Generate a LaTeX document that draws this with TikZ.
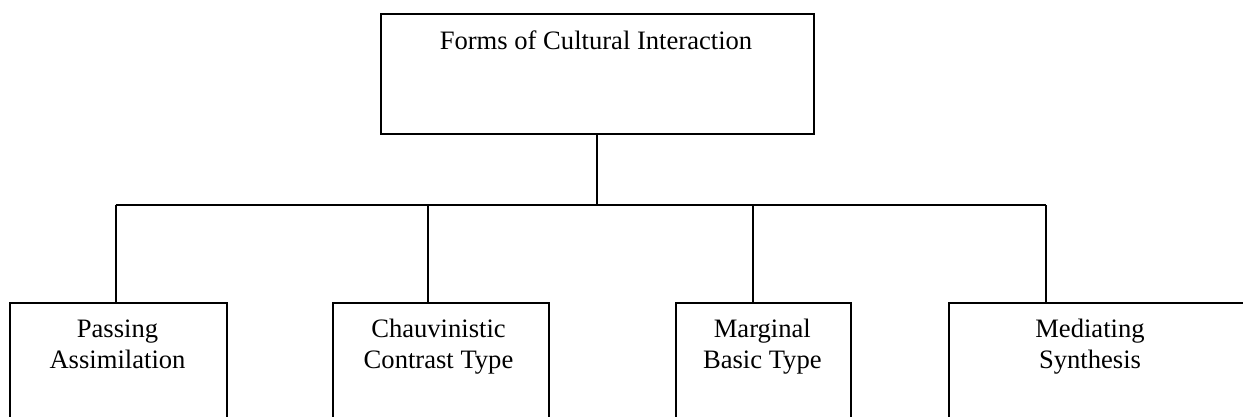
\documentclass[tikz,border=0pt]{standalone}
\usepackage{fontspec}
\setmainfont{Liberation Serif}
\begin{document}
\begin{tikzpicture}[x=1pt,y=-1pt,
  box/.style={draw, line width=2pt, rectangle, inner sep=0pt, anchor=north west},
  lbl/.style={inner sep=0pt, align=center, font=\fontsize{26.6}{30.5}\selectfont, anchor=base},
  conn/.style={line width=2pt}]
\clip (0,0) rectangle (1243,417);
\node[box, minimum width=433.2pt, minimum height=120pt] (top) at (379.5,13) {};
\node[lbl] (toplbl) at (596,50) {Forms of Cultural Interaction};
\node[box, minimum width=216.4pt, minimum height=140pt] (b1) at (9.3,302) {};
\node[box, minimum width=216pt, minimum height=140pt] (b2) at (332,302) {};
\node[box, minimum width=175.3pt, minimum height=140pt] (b3) at (674.7,302) {};
\node[box, minimum width=320pt, minimum height=140pt] (b4) at (947.7,302) {};
\node[lbl] (l1) at (117.5,368) {Passing\\Assimilation};
\node[lbl] (l2) at (438.5,368) {Chauvinistic\\Contrast Type};
\node[lbl] (l3) at (762.3,368) {Marginal\\Basic Type};
\node[lbl] (l4) at (1090,368) {Mediating\\Synthesis};
\coordinate (j) at (top.south |- 0,205);
\coordinate (d1) at (115.7,205);
\coordinate (d2) at (427.7,205);
\coordinate (d3) at (752.7,205);
\coordinate (d4) at (1045.7,205);
\draw[conn] (top.south) -- (j);
\draw[conn] (d1) -- (d4);
\draw[conn] (d1) -- (d1 |- b1.north);
\draw[conn] (d2) -- (d2 |- b2.north);
\draw[conn] (d3) -- (d3 |- b3.north);
\draw[conn] (d4) -- (d4 |- b4.north);
\end{tikzpicture}
\end{document}
